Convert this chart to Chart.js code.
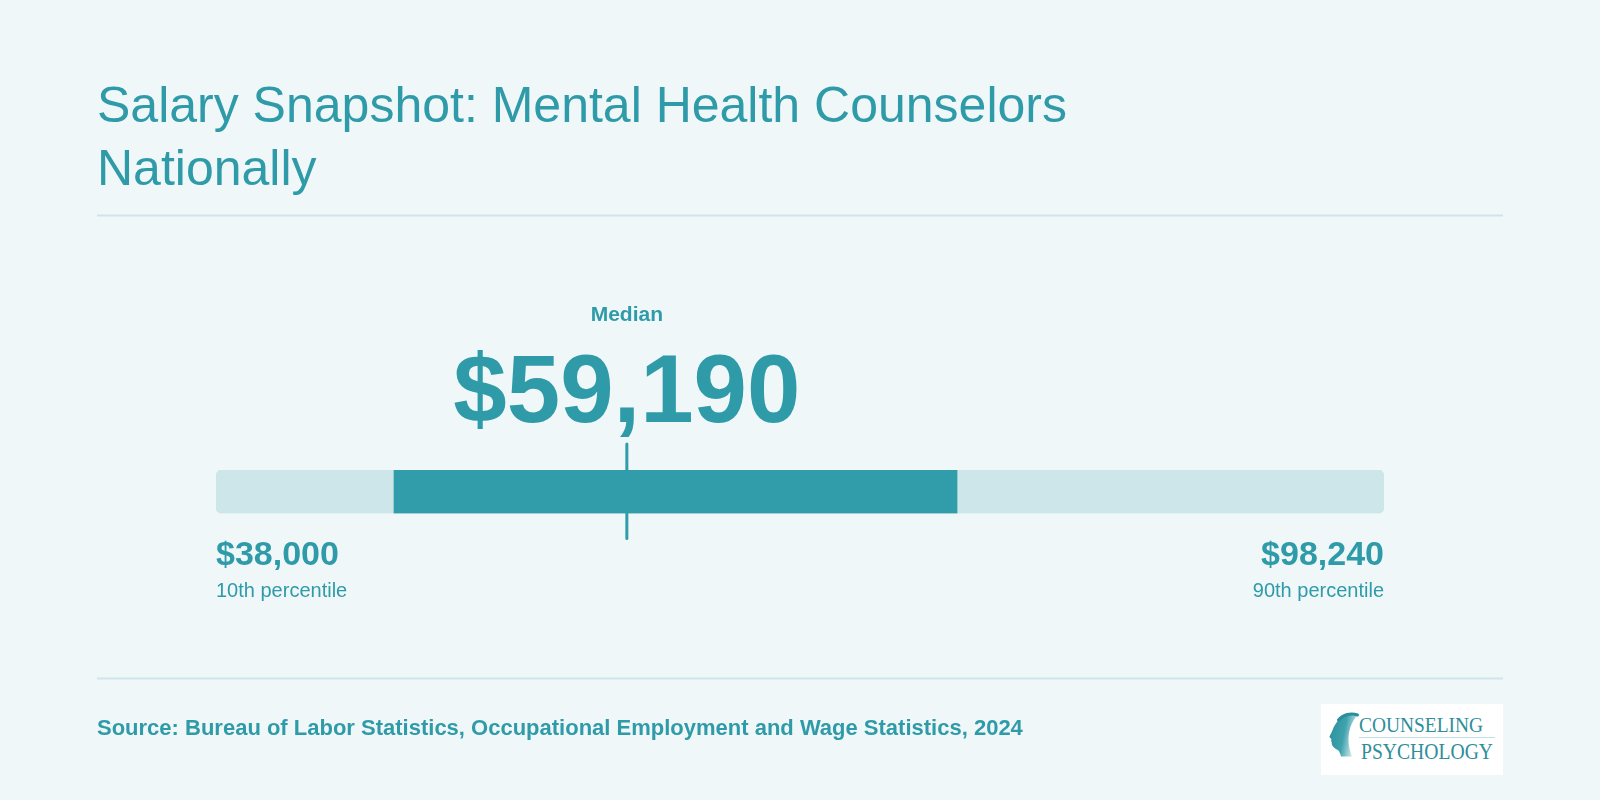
<!DOCTYPE html>
<html>
<head>
<meta charset="utf-8">
<script src="https://cdn.jsdelivr.net/npm/chart.js@4"></script>
<style>
  html, body { margin: 0; padding: 0; background: #EFF7F9; }
  #wrap { position: relative; width: 1600px; height: 800px; overflow: hidden; }
  #c { position: absolute; left: 0; top: 0; }
  #ov { position: absolute; left: 0; top: 0; pointer-events: none; }
  text { font-family: "Liberation Sans", Arial, Helvetica, sans-serif; }
</style>
</head>
<body>
<div id="wrap">
  <canvas id="c" width="1600" height="800"></canvas>
  <svg id="ov" width="1600" height="800" viewBox="0 0 1600 800">
    <defs>
      <linearGradient id="hg" x1="0" y1="0" x2="1" y2="0.3">
        <stop offset="0" stop-color="#2A8F9A"/>
        <stop offset="0.6" stop-color="#3FA3AE"/>
        <stop offset="1" stop-color="#CFE9EC"/>
      </linearGradient>
    </defs>
    <text x="97" y="122" font-size="50" fill="#2F9BA9">Salary Snapshot: Mental Health Counselors</text>
    <text x="97" y="185" font-size="50" fill="#2F9BA9">Nationally</text>
    <line x1="97" y1="215.5" x2="1503" y2="215.5" stroke="#CDE6E9" stroke-width="2"/>

    <text id="medLbl" x="626" y="321" font-size="21" font-weight="bold" fill="#2F9BA9" text-anchor="middle"></text>
    <text id="medVal" x="626" y="422" font-size="96" font-weight="bold" fill="#2F9BA9" text-anchor="middle"></text>

    <text id="loVal" x="216" y="565" font-size="34" font-weight="bold" fill="#2F9BA9"></text>
    <text id="loLbl" x="216" y="597" font-size="20" fill="#2F9BA9"></text>
    <text id="hiVal" x="1384" y="565" font-size="34" font-weight="bold" fill="#2F9BA9" text-anchor="end"></text>
    <text id="hiLbl" x="1384" y="597" font-size="20" fill="#2F9BA9" text-anchor="end"></text>

    <line x1="97" y1="678.5" x2="1503" y2="678.5" stroke="#CDE6E9" stroke-width="2"/>
    <text x="97" y="735" font-size="22" font-weight="bold" fill="#2F9BA9">Source: Bureau of Labor Statistics, Occupational Employment and Wage Statistics, 2024</text>

    <g transform="translate(1321,704)">
      <rect x="0" y="0" width="182" height="71" fill="#FFFFFF"/>
      <path d="M36.5,11 C30,8.5 22,10.5 17.5,16 C14,20.5 12.5,23 12,25 C11,28 9.5,30 8.5,32.5 C8.5,34 10.5,34.5 10.5,35.5 C9.8,36.5 10,37.5 10.8,38 C10.5,39.5 11,41 12,42.5 C13.5,44.5 16,45.5 17.5,46.5 C18.5,48 19.5,50 20,52.5 L31,52.5 C29,47 27.5,42 27.5,36 C27.5,28 29,20 36.5,11 Z" fill="url(#hg)"/>
      <path d="M36.5,11 C30,8.5 22,10.5 17.5,16" fill="none" stroke="#2A8F9A" stroke-width="3" stroke-linecap="round"/>
      <text x="38" y="27.7" font-size="20" fill="#2E8E99" textLength="124" lengthAdjust="spacingAndGlyphs" style="font-family:'Liberation Serif','DejaVu Serif',serif">COUNSELING</text>
      <line x1="38" y1="33.5" x2="174" y2="33.5" stroke="#BFE0E4" stroke-width="1"/>
      <text x="40" y="55" font-size="23" fill="#2E8E99" textLength="132" lengthAdjust="spacingAndGlyphs" style="font-family:'Liberation Serif','DejaVu Serif',serif">PSYCHOLOGY</text>
    </g>
  </svg>
</div>
<script>
// ---- data ----
const categories = ['Mental Health Counselors'];
const percentileLabels = ['10th percentile', '25th percentile', 'Median', '75th percentile', '90th percentile'];
const percentileValues = [38000, 47180, 59190, 76220, 98240];
const sourceYear = 2024;

const TEAL = '#319DAA';
const LIGHT = '#CDE6E9';

const p10 = percentileValues[0], p25 = percentileValues[1], med = percentileValues[2],
      p75 = percentileValues[3], p90 = percentileValues[4];

const fmt = v => '$' + v.toLocaleString('en-US');

const medianLine = {
  id: 'medianLine',
  afterDatasetsDraw(chart) {
    const x = chart.scales.x.getPixelForValue(med);
    const ctx = chart.ctx;
    ctx.save();
    ctx.strokeStyle = TEAL;
    ctx.lineWidth = 3;
    ctx.lineCap = 'round';
    ctx.beginPath();
    ctx.moveTo(x, chart.chartArea.top - 26);
    ctx.lineTo(x, chart.chartArea.bottom + 25);
    ctx.stroke();
    ctx.restore();
  },
  afterRender(chart) {
    const xs = chart.scales.x;
    const mx = xs.getPixelForValue(med);
    const setT = (id, x, txt) => {
      const el = document.getElementById(id);
      el.setAttribute('x', x);
      el.textContent = txt;
    };
    setT('medLbl', mx, percentileLabels[2]);
    setT('medVal', mx, fmt(med));
    setT('loVal', xs.getPixelForValue(p10), fmt(p10));
    setT('loLbl', xs.getPixelForValue(p10), percentileLabels[0]);
    setT('hiVal', xs.getPixelForValue(p90), fmt(p90));
    setT('hiLbl', xs.getPixelForValue(p90), percentileLabels[4]);
  }
};

new Chart(document.getElementById('c'), {
  type: 'bar',
  data: {
    labels: categories,
    datasets: [
      {
        label: 'Middle 50%',
        data: [[p25, p75]],
        backgroundColor: TEAL,
        borderWidth: 0,
        borderRadius: 0,
        grouped: false,
        order: 0,
        barPercentage: 1,
        categoryPercentage: 1
      },
      {
        label: 'Range (10th–90th)',
        data: [[p10, p90]],
        backgroundColor: LIGHT,
        borderWidth: 0,
        borderRadius: 6,
        borderSkipped: false,
        grouped: false,
        order: 1,
        barPercentage: 1,
        categoryPercentage: 1
      }
    ]
  },
  options: {
    indexAxis: 'y',
    responsive: false,
    animation: false,
    devicePixelRatio: 1,
    layout: { padding: { left: 216, right: 216, top: 470, bottom: 286.5 } },
    plugins: { legend: { display: false }, tooltip: { enabled: false } },
    scales: {
      x: { type: 'linear', min: p10, max: p90, display: false },
      y: { display: false }
    }
  },
  plugins: [medianLine]
});
</script>
</body>
</html>
